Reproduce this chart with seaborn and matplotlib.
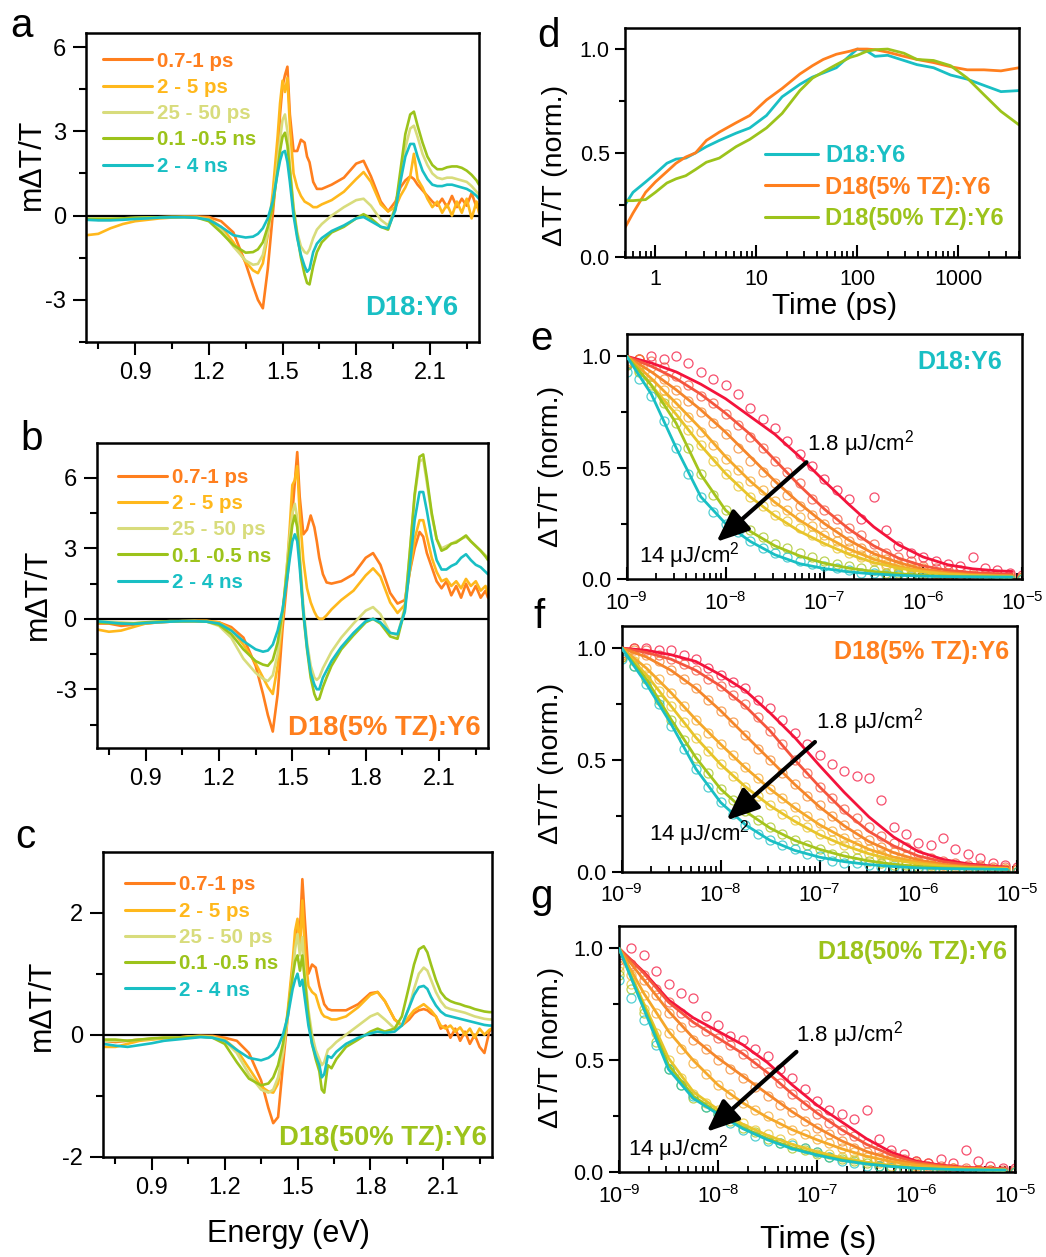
import numpy as np
import pandas as pd
import matplotlib
matplotlib.use('Agg')
import matplotlib.pyplot as plt
from matplotlib.lines import Line2D
from matplotlib.ticker import FixedLocator, FuncFormatter, LogLocator, NullFormatter, LogFormatterSciNotation
import seaborn as sns

# ---------------- transient spectra (panels a-c) ----------------
ENERGY = [0.70, 0.75, 0.80, 0.85, 0.90, 0.95, 1.00, 1.05, 1.10, 1.15,
          1.20, 1.25, 1.30, 1.35, 1.38, 1.40, 1.42, 1.44, 1.46, 1.48,
          1.49, 1.50, 1.51, 1.52, 1.53, 1.545, 1.56, 1.575, 1.59, 1.60,
          1.61, 1.625, 1.64, 1.66, 1.70, 1.75, 1.80, 1.83, 1.86, 1.90,
          1.93, 1.96, 1.98, 2.00, 2.02, 2.035, 2.05, 2.07, 2.09, 2.11,
          2.13, 2.15, 2.17, 2.19, 2.21, 2.23, 2.25, 2.27, 2.29, 2.30]
DELAYS = ['0.7-1 ps', '2 - 5 ps', '25 - 50 ps', '0.1 -0.5 ns', '2 - 4 ns']

# D18:Y6
A_07PS = [-0.12, -0.15, -0.15, -0.12, -0.10, -0.08, -0.06, -0.05, -0.04, -0.03,
          -0.05, -0.20, -0.60, -1.70, -2.50, -3.00, -3.30, -1.90, 0.00, 2.00,
          3.60, 4.60, 5.00, 5.30, 3.60, 2.30, 2.30, 2.70, 2.60, 2.10,
          1.90, 1.20, 0.95, 0.95, 1.10, 1.35, 1.85, 1.95, 1.40, 0.50,
          0.15, 0.50, 1.00, 1.25, 1.40, 1.30, 1.10, 0.90, 0.70, 0.50,
          0.35, 0.60, 0.30, 0.70, 0.30, 0.60, 0.35, 0.80, 0.30, 0.40]
A_2PS = [-0.70, -0.65, -0.45, -0.30, -0.20, -0.15, -0.10, -0.07, -0.05, -0.05,
         -0.10, -0.40, -0.95, -1.65, -1.95, -2.05, -1.70, -0.70, 0.80, 2.80,
         4.00, 4.80, 4.40, 4.90, 3.20, 1.50, 1.00, 0.70, 0.50, 0.45,
         0.40, 0.30, 0.30, 0.40, 0.55, 0.85, 1.30, 1.55, 1.20, 0.40,
         0.15, 0.30, 0.70, 1.00, 1.40, 2.20, 1.30, 1.00, 0.60, 0.30,
         0.50, 0.10, 0.40, 0.00, 0.50, 0.10, 0.60, -0.10, 0.50, 0.10]
A_25PS = [-0.10, -0.10, -0.10, -0.10, -0.08, -0.07, -0.06, -0.05, -0.05, -0.06,
          -0.15, -0.50, -1.10, -1.60, -1.75, -1.72, -1.40, -0.60, 0.40, 1.90,
          2.70, 3.40, 3.60, 3.00, 1.80, 0.30, -0.60, -1.10, -1.30, -1.35,
          -1.20, -0.80, -0.50, -0.30, 0.00, 0.30, 0.55, 0.60, 0.35, -0.15,
          -0.35, 0.30, 1.30, 2.40, 3.10, 3.20, 2.80, 2.20, 1.80, 1.50,
          1.35, 1.30, 1.35, 1.35, 1.30, 1.25, 1.20, 1.05, 0.85, 0.75]
A_01NS = [-0.12, -0.12, -0.12, -0.10, -0.08, -0.07, -0.06, -0.05, -0.05, -0.07,
          -0.20, -0.60, -1.05, -1.32, -1.30, -1.20, -0.95, -0.40, 0.30, 1.60,
          2.30, 2.80, 2.95, 2.50, 1.60, 0.20, -0.70, -1.50, -2.10, -2.40,
          -2.45, -1.80, -1.30, -0.95, -0.60, -0.40, -0.10, 0.05, -0.10, -0.40,
          -0.50, 0.30, 1.60, 2.90, 3.60, 3.70, 3.20, 2.60, 2.10, 1.80,
          1.65, 1.65, 1.72, 1.75, 1.75, 1.70, 1.60, 1.45, 1.25, 1.10]
A_2NS = [-0.15, -0.17, -0.17, -0.15, -0.12, -0.10, -0.07, -0.06, -0.06, -0.08,
         -0.15, -0.40, -0.70, -0.78, -0.75, -0.65, -0.45, -0.10, 0.50, 1.50,
         1.95, 2.25, 2.30, 1.90, 1.20, 0.00, -0.80, -1.40, -1.80, -2.00,
         -1.90, -1.30, -1.00, -0.80, -0.55, -0.35, -0.10, -0.05, -0.20, -0.40,
         -0.45, 0.20, 1.20, 2.10, 2.55, 2.55, 2.10, 1.60, 1.30, 1.10,
         1.05, 1.05, 1.10, 1.10, 1.05, 1.00, 0.95, 0.85, 0.70, 0.60]

# D18(5% TZ):Y6
B_07PS = [-0.20, -0.20, -0.30, -0.25, -0.20, -0.15, -0.12, -0.10, -0.10, -0.10,
          -0.15, -0.35, -0.80, -2.00, -3.20, -4.10, -4.80, -3.20, -0.40, 1.80,
          3.00, 4.50, 5.80, 7.10, 5.20, 3.60, 3.80, 4.40, 3.90, 3.30,
          2.60, 1.90, 1.55, 1.50, 1.60, 1.90, 2.60, 2.80, 2.30, 1.10,
          0.65, 0.80, 2.00, 3.00, 3.70, 3.50, 2.80, 2.20, 1.60, 1.30,
          1.60, 1.00, 1.40, 0.90, 1.50, 1.00, 1.40, 0.90, 1.20, 0.90]
B_2PS = [-0.45, -0.55, -0.50, -0.35, -0.20, -0.15, -0.12, -0.10, -0.08, -0.08,
         -0.15, -0.45, -1.10, -1.90, -2.50, -2.90, -3.20, -2.00, 0.00, 2.50,
         4.00, 5.70, 5.90, 6.50, 4.50, 2.50, 1.30, 0.70, 0.30, 0.10,
         0.00, 0.00, 0.15, 0.40, 0.80, 1.20, 1.85, 2.15, 1.80, 0.70,
         0.25, 0.60, 2.00, 3.40, 4.20, 4.20, 3.50, 2.60, 2.00, 1.60,
         1.70, 1.40, 1.60, 1.30, 1.70, 1.40, 1.60, 1.20, 1.40, 1.10]
B_25PS = [-0.10, -0.12, -0.15, -0.18, -0.15, -0.12, -0.10, -0.10, -0.10, -0.12,
          -0.30, -0.80, -1.70, -2.30, -2.55, -2.65, -2.40, -1.50, 0.20, 2.50,
          3.60, 4.50, 4.90, 4.30, 2.80, 0.50, -1.00, -2.00, -2.50, -2.60,
          -2.50, -2.10, -1.80, -1.40, -0.80, -0.20, 0.35, 0.50, 0.20, -0.60,
          -0.70, 0.50, 2.80, 5.20, 6.70, 6.80, 5.80, 4.40, 3.40, 3.00,
          3.10, 3.20, 3.30, 3.40, 3.50, 3.30, 3.10, 2.90, 2.70, 2.60]
B_01NS = [-0.15, -0.18, -0.20, -0.20, -0.15, -0.12, -0.10, -0.10, -0.10, -0.12,
          -0.25, -0.65, -1.30, -1.80, -1.95, -2.00, -1.75, -1.00, 0.30, 2.20,
          3.20, 4.00, 4.40, 3.90, 2.50, 0.20, -1.30, -2.50, -3.20, -3.45,
          -3.40, -2.90, -2.50, -2.00, -1.30, -0.70, -0.15, 0.00, -0.20, -0.75,
          -0.85, 0.40, 2.80, 5.30, 6.90, 7.00, 6.00, 4.50, 3.40, 2.90,
          3.00, 3.20, 3.25, 3.40, 3.55, 3.30, 3.10, 2.90, 2.65, 2.50]
B_2NS = [-0.10, -0.15, -0.20, -0.22, -0.18, -0.15, -0.12, -0.10, -0.10, -0.12,
         -0.20, -0.50, -0.95, -1.30, -1.40, -1.35, -1.10, -0.50, 0.40, 1.80,
         2.60, 3.30, 3.60, 3.30, 2.20, 0.30, -1.20, -2.30, -2.80, -3.00,
         -3.00, -2.50, -2.20, -1.80, -1.20, -0.60, -0.10, 0.00, -0.15, -0.60,
         -0.65, 0.30, 2.20, 4.20, 5.40, 5.40, 4.60, 3.40, 2.50, 2.10,
         2.10, 2.25, 2.35, 2.60, 2.75, 2.50, 2.30, 2.20, 2.00, 1.90]

# D18(50% TZ):Y6
C_07PS = [-0.10, -0.12, -0.10, -0.08, -0.07, -0.05, -0.05, -0.03, -0.02, -0.02,
          -0.05, -0.10, -0.30, -0.75, -1.20, -1.45, -1.35, -0.50, 0.30, 1.10,
          1.50, 1.85, 1.70, 2.55, 1.90, 1.00, 1.15, 1.10, 0.80, 0.65,
          0.50, 0.42, 0.40, 0.40, 0.40, 0.50, 0.68, 0.70, 0.55, 0.25,
          0.15, 0.25, 0.35, 0.40, 0.42, 0.40, 0.35, 0.30, 0.10, 0.15,
          -0.05, 0.10, -0.10, 0.05, -0.15, 0.00, -0.20, -0.30, 0.05, 0.10]
C_2PS = [-0.20, -0.20, -0.15, -0.10, -0.08, -0.06, -0.05, -0.03, -0.02, -0.03,
         -0.08, -0.25, -0.55, -0.85, -0.93, -0.95, -0.80, -0.30, 0.40, 1.20,
         1.70, 1.90, 1.40, 2.20, 1.40, 0.80, 0.70, 0.65, 0.45, 0.35,
         0.30, 0.28, 0.25, 0.25, 0.30, 0.45, 0.65, 0.70, 0.55, 0.25,
         0.15, 0.30, 0.40, 0.45, 0.50, 0.45, 0.40, 0.30, 0.15, 0.10,
         0.15, 0.05, 0.12, 0.00, 0.10, -0.05, 0.10, 0.00, 0.08, 0.10]
C_25PS = [-0.10, -0.10, -0.10, -0.08, -0.07, -0.05, -0.05, -0.04, -0.03, -0.04,
          -0.10, -0.30, -0.65, -0.90, -0.95, -0.90, -0.70, -0.30, 0.30, 1.00,
          1.40, 1.65, 1.30, 1.60, 1.00, 0.40, 0.00, -0.25, -0.40, -0.50,
          -0.45, -0.25, -0.20, -0.12, 0.00, 0.15, 0.30, 0.35, 0.25, 0.10,
          0.15, 0.45, 0.75, 1.00, 1.10, 1.05, 0.90, 0.70, 0.55, 0.45,
          0.42, 0.40, 0.38, 0.36, 0.33, 0.30, 0.28, 0.26, 0.25, 0.25]
C_01NS = [-0.08, -0.08, -0.10, -0.08, -0.06, -0.05, -0.05, -0.04, -0.03, -0.05,
          -0.15, -0.45, -0.72, -0.83, -0.80, -0.70, -0.50, -0.15, 0.35, 0.95,
          1.20, 1.30, 1.05, 1.30, 0.90, 0.30, -0.15, -0.40, -0.60, -0.90,
          -0.95, -0.50, -0.55, -0.40, -0.20, -0.08, 0.05, 0.10, 0.05, 0.10,
          0.30, 0.80, 1.15, 1.40, 1.45, 1.35, 1.15, 0.90, 0.70, 0.60,
          0.55, 0.52, 0.50, 0.47, 0.45, 0.42, 0.40, 0.38, 0.37, 0.37]
C_2NS = [-0.15, -0.18, -0.20, -0.17, -0.14, -0.10, -0.08, -0.06, -0.04, -0.05,
         -0.10, -0.25, -0.38, -0.42, -0.38, -0.32, -0.20, 0.00, 0.30, 0.75,
         0.90, 1.00, 0.80, 0.90, 0.60, 0.15, -0.15, -0.35, -0.50, -0.70,
         -0.65, -0.35, -0.38, -0.28, -0.15, -0.05, 0.02, 0.05, 0.03, 0.05,
         0.15, 0.45, 0.65, 0.78, 0.80, 0.75, 0.62, 0.48, 0.38, 0.32,
         0.30, 0.28, 0.26, 0.24, 0.22, 0.20, 0.18, 0.16, 0.15, 0.15]

# ---------------- kinetics (panel d) ----------------
TIME_PS = [0.5, 0.6, 0.8, 1.0, 1.3, 1.6, 2.0, 2.5, 3.2, 4.3, 6.3, 8.6, 12.6, 18, 27, 36,
           46, 62, 85, 100, 125, 150, 200, 290, 390, 570, 840, 1230, 1800, 2650, 4000]
D_Y6 = [0.25, 0.31, 0.36, 0.40, 0.45, 0.47, 0.475, 0.50, 0.53, 0.56, 0.595, 0.62, 0.68, 0.77,
        0.83, 0.865, 0.885, 0.91, 0.97, 1.0, 0.99, 0.965, 0.97, 0.945, 0.925, 0.91, 0.875,
        0.855, 0.825, 0.795, 0.80]
D_5TZ = [0.14, 0.21, 0.31, 0.36, 0.41, 0.45, 0.48, 0.50, 0.56, 0.60, 0.645, 0.68, 0.755, 0.81,
         0.88, 0.92, 0.95, 0.975, 0.99, 1.0, 1.0, 0.997, 0.985, 0.965, 0.95, 0.935, 0.915,
         0.90, 0.90, 0.895, 0.91]
D_50TZ = [0.27, 0.27, 0.275, 0.31, 0.355, 0.375, 0.39, 0.42, 0.455, 0.475, 0.53, 0.565, 0.62,
          0.69, 0.80, 0.86, 0.89, 0.925, 0.96, 0.97, 0.99, 0.997, 1.0, 0.98, 0.95, 0.945,
          0.92, 0.86, 0.78, 0.70, 0.635]
SAMPLES = ['D18:Y6', 'D18(5% TZ):Y6', 'D18(50% TZ):Y6']

# ---------------- fluence-dependent decays (panels e-g) ----------------
LOGT_FIT = [-9.0, -8.75, -8.5, -8.25, -8.0, -7.75, -7.5, -7.25, -7.0, -6.75,
            -6.5, -6.25, -6.0, -5.75, -5.5, -5.25, -5.1]
LOGT_DATA = [-9.0, -8.875, -8.75, -8.625, -8.5, -8.375, -8.25, -8.125, -8.0, -7.875,
             -7.75, -7.625, -7.5, -7.375, -7.25, -7.125, -7.0, -6.875, -6.75, -6.625,
             -6.5, -6.375, -6.25, -6.125, -6.0, -5.875, -5.75, -5.625, -5.5, -5.375,
             -5.25, -5.125, -5.0]
FLUENCES = ['1.8', 'f2', 'f3', 'f4', 'f5', 'f6', '14']

FIT_E = [
    [1.0, 0.97, 0.93, 0.875, 0.81, 0.73, 0.65, 0.55, 0.44, 0.335, 0.235, 0.155, 0.10, 0.065, 0.047, 0.038, 0.035],
    [1.0, 0.955, 0.90, 0.83, 0.745, 0.65, 0.535, 0.42, 0.315, 0.225, 0.15, 0.095, 0.06, 0.04, 0.03, 0.025, 0.022],
    [1.0, 0.93, 0.85, 0.76, 0.66, 0.55, 0.44, 0.34, 0.25, 0.175, 0.115, 0.075, 0.045, 0.03, 0.022, 0.018, 0.016],
    [1.0, 0.90, 0.79, 0.675, 0.55, 0.44, 0.345, 0.265, 0.195, 0.135, 0.09, 0.058, 0.037, 0.025, 0.018, 0.015, 0.014],
    [1.0, 0.87, 0.74, 0.60, 0.475, 0.37, 0.285, 0.215, 0.16, 0.112, 0.075, 0.05, 0.033, 0.022, 0.016, 0.013, 0.012],
    [1.0, 0.87, 0.70, 0.47, 0.31, 0.215, 0.15, 0.105, 0.072, 0.05, 0.035, 0.025, 0.018, 0.014, 0.012, 0.011, 0.01],
    [1.0, 0.83, 0.59, 0.37, 0.25, 0.17, 0.11, 0.07, 0.048, 0.033, 0.024, 0.018, 0.014, 0.012, 0.011, 0.01, 0.01],
]
DATA_E = [
    [0.97, 0.99, 1.0, 0.99, 1.0, 0.97, 0.93, 0.9, 0.87, 0.83, 0.77, 0.72, 0.68, 0.62, 0.56, 0.51, 0.45,
     0.4, 0.36, 0.27, 0.37, 0.22, 0.15, 0.12, 0.1, 0.08, 0.07, 0.06, 0.1, 0.05, 0.04, 0.03, 0.02],
    [0.96, 0.99, 0.98, 0.95, 0.91, 0.87, 0.82, 0.79, 0.74, 0.69, 0.64, 0.59, 0.53, 0.48, 0.43, 0.36, 0.31,
     0.27, 0.23, 0.2, 0.16, 0.12, 0.1, 0.08, 0.06, 0.05, 0.04, 0.04, 0.03, 0.02, 0.02, 0.02, 0.01],
    [0.97, 0.99, 0.95, 0.9, 0.85, 0.8, 0.75, 0.7, 0.65, 0.59, 0.53, 0.48, 0.43, 0.38, 0.33, 0.29, 0.25,
     0.21, 0.17, 0.14, 0.11, 0.09, 0.07, 0.06, 0.05, 0.03, 0.03, 0.02, 0.02, 0.01, 0.01, 0.01, 0.01],
    [0.98, 0.96, 0.91, 0.85, 0.79, 0.73, 0.66, 0.6, 0.54, 0.49, 0.44, 0.4, 0.35, 0.31, 0.28, 0.24, 0.2,
     0.17, 0.14, 0.11, 0.09, 0.07, 0.06, 0.05, 0.04, 0.03, 0.02, 0.02, 0.01, 0.01, 0.01, 0.0, 0.0],
    [0.97, 0.94, 0.88, 0.81, 0.74, 0.67, 0.6, 0.53, 0.47, 0.42, 0.37, 0.33, 0.29, 0.26, 0.23, 0.2, 0.17,
     0.14, 0.12, 0.1, 0.08, 0.06, 0.05, 0.04, 0.03, 0.02, 0.02, 0.01, 0.01, 0.01, 0.0, 0.0, 0.0],
    [0.96, 0.93, 0.87, 0.79, 0.7, 0.59, 0.47, 0.38, 0.31, 0.26, 0.22, 0.19, 0.16, 0.14, 0.12, 0.1, 0.08,
     0.07, 0.06, 0.05, 0.04, 0.03, 0.03, 0.02, 0.02, 0.01, 0.01, 0.01, 0.01, 0.0, 0.0, 0.0, 0.0],
    [0.93, 0.9, 0.82, 0.71, 0.59, 0.47, 0.37, 0.3, 0.25, 0.21, 0.17, 0.14, 0.12, 0.1, 0.08, 0.07, 0.06,
     0.05, 0.04, 0.03, 0.03, 0.02, 0.02, 0.01, 0.01, 0.01, 0.0, 0.0, 0.0, 0.0, 0.0, 0.0, 0.0],
]

FIT_F = [
    [1.0, 0.99, 0.97, 0.94, 0.88, 0.81, 0.71, 0.60, 0.475, 0.355, 0.245, 0.155, 0.09, 0.055, 0.035, 0.025, 0.02],
    [1.0, 0.98, 0.95, 0.90, 0.83, 0.74, 0.63, 0.50, 0.38, 0.27, 0.18, 0.115, 0.07, 0.045, 0.03, 0.022, 0.018],
    [1.0, 0.96, 0.90, 0.82, 0.72, 0.61, 0.50, 0.39, 0.29, 0.205, 0.135, 0.085, 0.052, 0.033, 0.023, 0.018, 0.015],
    [1.0, 0.91, 0.80, 0.68, 0.57, 0.465, 0.37, 0.285, 0.21, 0.15, 0.10, 0.065, 0.042, 0.028, 0.02, 0.016, 0.014],
    [1.0, 0.88, 0.74, 0.60, 0.48, 0.38, 0.295, 0.225, 0.165, 0.118, 0.08, 0.053, 0.035, 0.024, 0.018, 0.014, 0.012],
    [1.0, 0.86, 0.68, 0.51, 0.37, 0.27, 0.195, 0.14, 0.10, 0.07, 0.048, 0.033, 0.023, 0.017, 0.014, 0.012, 0.01],
    [1.0, 0.84, 0.66, 0.46, 0.31, 0.21, 0.14, 0.095, 0.065, 0.045, 0.032, 0.023, 0.017, 0.014, 0.012, 0.011, 0.01],
]
DATA_F = [
    [0.98, 1.0, 1.0, 0.99, 0.99, 0.97, 0.95, 0.91, 0.88, 0.85, 0.82, 0.77, 0.73, 0.68, 0.62, 0.57, 0.52,
     0.48, 0.45, 0.43, 0.42, 0.32, 0.2, 0.17, 0.13, 0.12, 0.15, 0.1, 0.08, 0.06, 0.04, 0.03, 0.02],
    [0.97, 1.0, 0.99, 0.97, 0.95, 0.93, 0.9, 0.86, 0.83, 0.79, 0.75, 0.69, 0.63, 0.57, 0.5, 0.44, 0.38,
     0.33, 0.28, 0.24, 0.2, 0.16, 0.13, 0.11, 0.08, 0.06, 0.05, 0.04, 0.03, 0.03, 0.02, 0.02, 0.01],
    [0.96, 0.99, 0.97, 0.94, 0.9, 0.86, 0.82, 0.77, 0.72, 0.67, 0.61, 0.55, 0.5, 0.44, 0.39, 0.34, 0.3,
     0.25, 0.21, 0.17, 0.14, 0.11, 0.09, 0.07, 0.05, 0.04, 0.03, 0.03, 0.02, 0.02, 0.01, 0.01, 0.01],
    [0.98, 0.96, 0.91, 0.86, 0.8, 0.74, 0.68, 0.62, 0.57, 0.52, 0.47, 0.42, 0.37, 0.33, 0.29, 0.25, 0.22,
     0.18, 0.15, 0.12, 0.1, 0.08, 0.07, 0.05, 0.04, 0.03, 0.03, 0.02, 0.02, 0.01, 0.01, 0.01, 0.0],
    [0.97, 0.94, 0.88, 0.81, 0.74, 0.67, 0.6, 0.54, 0.48, 0.43, 0.38, 0.34, 0.3, 0.26, 0.23, 0.2, 0.17,
     0.14, 0.12, 0.1, 0.08, 0.07, 0.05, 0.04, 0.04, 0.03, 0.02, 0.02, 0.01, 0.01, 0.01, 0.0, 0.0],
    [0.96, 0.92, 0.86, 0.77, 0.68, 0.59, 0.51, 0.44, 0.37, 0.32, 0.27, 0.23, 0.2, 0.17, 0.14, 0.12, 0.1,
     0.08, 0.07, 0.06, 0.05, 0.04, 0.03, 0.03, 0.02, 0.02, 0.01, 0.01, 0.01, 0.01, 0.0, 0.0, 0.0],
    [0.95, 0.92, 0.84, 0.75, 0.65, 0.55, 0.46, 0.38, 0.31, 0.26, 0.21, 0.17, 0.14, 0.12, 0.1, 0.08, 0.07,
     0.05, 0.04, 0.04, 0.03, 0.02, 0.02, 0.01, 0.01, 0.01, 0.0, 0.0, 0.0, 0.0, 0.0, 0.0, 0.0],
]

FIT_G = [
    [1.0, 0.895, 0.77, 0.69, 0.63, 0.57, 0.49, 0.39, 0.30, 0.225, 0.15, 0.09, 0.05, 0.032, 0.022, 0.018, 0.016],
    [1.0, 0.89, 0.76, 0.67, 0.60, 0.53, 0.445, 0.35, 0.265, 0.19, 0.125, 0.078, 0.045, 0.03, 0.02, 0.016, 0.015],
    [1.0, 0.86, 0.72, 0.60, 0.51, 0.43, 0.35, 0.27, 0.20, 0.14, 0.093, 0.06, 0.038, 0.026, 0.019, 0.015, 0.014],
    [1.0, 0.80, 0.63, 0.50, 0.39, 0.31, 0.245, 0.19, 0.145, 0.105, 0.072, 0.048, 0.032, 0.022, 0.016, 0.013, 0.012],
    [1.0, 0.755, 0.51, 0.36, 0.28, 0.215, 0.165, 0.125, 0.092, 0.065, 0.045, 0.031, 0.022, 0.016, 0.013, 0.011, 0.01],
    [1.0, 0.74, 0.48, 0.34, 0.265, 0.20, 0.15, 0.11, 0.08, 0.056, 0.039, 0.027, 0.019, 0.014, 0.012, 0.01, 0.01],
    [1.0, 0.73, 0.46, 0.33, 0.26, 0.195, 0.145, 0.105, 0.077, 0.053, 0.037, 0.026, 0.018, 0.014, 0.011, 0.01, 0.01],
]
DATA_G = [
    [0.97, 1.0, 0.97, 0.9, 0.84, 0.8, 0.78, 0.7, 0.66, 0.61, 0.59, 0.55, 0.52, 0.46, 0.42, 0.37, 0.32,
     0.28, 0.26, 0.24, 0.28, 0.15, 0.1, 0.08, 0.05, 0.04, 0.06, 0.04, 0.1, 0.05, 0.03, 0.02, 0.02],
    [0.95, 0.93, 0.88, 0.82, 0.76, 0.71, 0.67, 0.63, 0.6, 0.57, 0.53, 0.49, 0.45, 0.4, 0.35, 0.3, 0.26,
     0.22, 0.19, 0.16, 0.13, 0.1, 0.08, 0.06, 0.05, 0.04, 0.03, 0.02, 0.02, 0.01, 0.01, 0.01, 0.01],
    [0.96, 0.92, 0.86, 0.79, 0.71, 0.65, 0.59, 0.55, 0.5, 0.46, 0.42, 0.38, 0.34, 0.3, 0.27, 0.23, 0.2,
     0.17, 0.14, 0.11, 0.09, 0.07, 0.06, 0.05, 0.04, 0.03, 0.02, 0.02, 0.01, 0.01, 0.01, 0.0, 0.0],
    [0.92, 0.88, 0.79, 0.71, 0.62, 0.55, 0.49, 0.44, 0.39, 0.35, 0.31, 0.28, 0.25, 0.22, 0.19, 0.17, 0.15,
     0.13, 0.11, 0.09, 0.07, 0.06, 0.05, 0.04, 0.03, 0.02, 0.02, 0.01, 0.01, 0.01, 0.0, 0.0, 0.0],
    [0.9, 0.84, 0.73, 0.62, 0.5, 0.42, 0.35, 0.31, 0.28, 0.25, 0.22, 0.19, 0.17, 0.15, 0.13, 0.11, 0.09,
     0.08, 0.07, 0.06, 0.05, 0.04, 0.03, 0.02, 0.02, 0.01, 0.01, 0.01, 0.0, 0.0, 0.0, 0.0, 0.0],
    [0.88, 0.82, 0.71, 0.58, 0.46, 0.39, 0.33, 0.29, 0.26, 0.23, 0.2, 0.18, 0.15, 0.13, 0.11, 0.1, 0.08,
     0.07, 0.06, 0.05, 0.04, 0.03, 0.02, 0.02, 0.01, 0.01, 0.01, 0.0, 0.0, 0.0, 0.0, 0.0, 0.0],
    [0.86, 0.78, 0.68, 0.57, 0.46, 0.39, 0.34, 0.29, 0.26, 0.22, 0.19, 0.16, 0.14, 0.13, 0.12, 0.11, 0.09,
     0.07, 0.05, 0.04, 0.03, 0.03, 0.02, 0.01, 0.01, 0.01, 0.0, 0.0, 0.0, 0.0, 0.0, 0.0, 0.0],
]

# ---------------- style ----------------
SPEC_COLORS = ['#FF7F1E', '#FFB81C', '#D8DC7C', '#9CC31B', '#19BFC4']
SAMPLE_COLORS = ['#19BFC4', '#FF7F1E', '#9CC31B']
DECAY_COLORS = ['#F4143C', '#F5553D', '#F5862A', '#F5A82A', '#E8C42A', '#A5C41C', '#19BFC4']

sns.set_style('ticks')
plt.rcParams['font.family'] = ['Liberation Sans', 'DejaVu Sans']
plt.rcParams['mathtext.default'] = 'regular'
plt.rcParams['axes.linewidth'] = 1.8
plt.rcParams['axes.edgecolor'] = 'black'
plt.rcParams['xtick.color'] = 'black'
plt.rcParams['ytick.color'] = 'black'
plt.rcParams['text.color'] = 'black'
plt.rcParams['axes.labelcolor'] = 'black'

FIG_W, FIG_H = 1046, 1257
fig = plt.figure(figsize=(FIG_W / 100, FIG_H / 100), dpi=100)


def pix_axes(left, top, right, bottom):
    return fig.add_axes([left / FIG_W, 1 - bottom / FIG_H,
                         (right - left) / FIG_W, (bottom - top) / FIG_H])


def spectra_panel(ax, curves, ylim, major, minor, tag, tag_color, tag_xy, leg_xy, ylab_xy):
    df = pd.concat([pd.DataFrame({'energy': ENERGY, 'value': v, 'delay': d})
                    for d, v in zip(DELAYS, curves)], ignore_index=True)
    ax.axhline(0, color='black', lw=1.6, zorder=1)
    sns.lineplot(data=df, x='energy', y='value', hue='delay', hue_order=DELAYS,
                 palette=SPEC_COLORS, estimator=None, sort=False, legend=False,
                 linewidth=1.9, ax=ax)
    ax.set_xlim(0.7, 2.3)
    ax.set_ylim(*ylim)
    ax.xaxis.set_major_locator(FixedLocator([0.9, 1.2, 1.5, 1.8, 2.1]))
    ax.xaxis.set_minor_locator(FixedLocator([0.75, 1.05, 1.35, 1.65, 1.95, 2.25]))
    ax.xaxis.set_major_formatter(FuncFormatter(lambda v, p: f'{v:.1f}'))
    ax.yaxis.set_major_locator(FixedLocator(major))
    ax.yaxis.set_minor_locator(FixedLocator(minor))
    ax.yaxis.set_major_formatter(FuncFormatter(lambda v, p: f'{v:g}'))
    ax.tick_params(which='major', direction='out', length=9.5, width=1.5, labelsize=17, pad=5)
    ax.tick_params(which='minor', direction='out', length=5, width=1.5)
    ax.set_xlabel('')
    ax.set_ylabel('mΔT/T', fontsize=22)
    ax.yaxis.set_label_coords(*ylab_xy)
    handles = [Line2D([], [], color=c, lw=2.2) for c in SPEC_COLORS]
    ax.legend(handles, DELAYS, loc='upper left', bbox_to_anchor=leg_xy, frameon=False,
              handlelength=2.38, handletextpad=0.25, labelspacing=0.355, borderpad=0,
              borderaxespad=0, labelcolor='linecolor', prop={'weight': 'bold', 'size': 14.8})
    ax.text(tag_xy[0], tag_xy[1], tag, transform=ax.transAxes, ha='right', va='center',
            color=tag_color, fontsize=19.8, fontweight='bold')


def log_x_ticks(ax, major):
    ax.xaxis.set_major_locator(FixedLocator(major))
    ax.xaxis.set_minor_locator(LogLocator(base=10, subs=np.arange(2, 10), numticks=40))
    ax.xaxis.set_minor_formatter(NullFormatter())
    ax.tick_params(axis='x', which='major', direction='in', length=8.5, width=1.5, pad=9)
    ax.tick_params(axis='x', which='minor', direction='in', length=4.5, width=1.3)
    ax.tick_params(axis='y', which='major', direction='out', length=7, width=1.5, pad=4)
    ax.tick_params(axis='y', which='minor', direction='out', length=4, width=1.5)
    ax.tick_params(which='major', labelsize=15.5)
    ax.set_ylim(0, 1.1)
    ax.yaxis.set_major_locator(FixedLocator([0.0, 0.5, 1.0]))
    ax.yaxis.set_minor_locator(FixedLocator([0.25, 0.75]))
    ax.yaxis.set_major_formatter(FuncFormatter(lambda v, p: f'{v:.1f}'))


def decay_panel(ax, fits, data, tag, tag_color, tag_xy, arrow_from, arrow_to, hi_xy, lo_xy, ylab_xy):
    ax.set_xscale('log')
    t_fit = 10.0 ** np.array(LOGT_FIT)
    t_dat = 10.0 ** np.array(LOGT_DATA)
    for col, vals in zip(DECAY_COLORS, data):
        ax.plot(t_dat, vals, ls='none', marker='o', ms=6.5, mfc='none', mec=col,
                mew=0.9, alpha=0.75, zorder=2)
    fit_df = pd.concat([pd.DataFrame({'t': t_fit, 'v': v, 'fluence': f})
                        for f, v in zip(FLUENCES, fits)], ignore_index=True)
    sns.lineplot(data=fit_df, x='t', y='v', hue='fluence', hue_order=FLUENCES,
                 palette=DECAY_COLORS, estimator=None, sort=False, legend=False,
                 linewidth=2.0, ax=ax, zorder=3)
    ax.set_xlim(1e-9, 1e-5)
    log_x_ticks(ax, [1e-9, 1e-8, 1e-7, 1e-6, 1e-5])
    ax.xaxis.set_major_formatter(LogFormatterSciNotation())
    ax.set_xlabel('')
    ax.set_ylabel('ΔT/T (norm.)', fontsize=20.5)
    ax.yaxis.set_label_coords(*ylab_xy)
    ax.annotate('', xy=arrow_to, xytext=arrow_from,
                arrowprops=dict(arrowstyle='-|>,head_length=0.9,head_width=0.38',
                                color='black', lw=3, mutation_scale=22,
                                shrinkA=0, shrinkB=0), zorder=6)
    ax.text(hi_xy[0], hi_xy[1], '1.8 μJ/cm$^2$', ha='left', va='center', fontsize=16, zorder=6)
    ax.text(lo_xy[0], lo_xy[1], '14 μJ/cm$^2$', ha='left', va='center', fontsize=16, zorder=6)
    ax.text(tag_xy[0], tag_xy[1], tag, transform=ax.transAxes, ha='right', va='center',
            color=tag_color, fontsize=18, fontweight='bold')


# ---------------- panels a-c ----------------
ax_a = pix_axes(86, 33, 479, 342)
spectra_panel(ax_a, [A_07PS, A_2PS, A_25PS, A_01NS, A_2NS], (-4.5, 6.5), [-3, 0, 3, 6],
              [-4.5, -1.5, 1.5, 4.5], 'D18:Y6', SPEC_COLORS[4], (0.947, 0.11),
              (0.043, 0.94), (-0.10, 0.576))

ax_b = pix_axes(96.7, 442.7, 488, 748)
spectra_panel(ax_b, [B_07PS, B_2PS, B_25PS, B_01NS, B_2NS], (-5.5, 7.5), [-3, 0, 3, 6],
              [-4.5, -1.5, 1.5, 4.5], 'D18(5% TZ):Y6', SPEC_COLORS[0], (0.98, 0.065),
              (0.055, 0.918), (-0.112, 0.504))

ax_c = pix_axes(103.3, 851.7, 491.7, 1156.7)
spectra_panel(ax_c, [C_07PS, C_2PS, C_25PS, C_01NS, C_2NS], (-2, 3), [-2, 0, 2],
              [-1, 1], 'D18(50% TZ):Y6', SPEC_COLORS[3], (0.988, 0.06),
              (0.056, 0.922), (-0.119, 0.495))
ax_c.set_xlabel('Energy (eV)', fontsize=22)
ax_c.xaxis.set_label_coords(0.476, -0.204)
ax_c.xaxis.label.set_va('top')

# ---------------- panel d ----------------
ax_d = pix_axes(625, 28.3, 1019, 256.7)
ax_d.set_xscale('log')
kin = pd.concat([pd.DataFrame({'time': TIME_PS, 'value': v, 'sample': s})
                 for s, v in zip(SAMPLES, [D_Y6, D_5TZ, D_50TZ])], ignore_index=True)
sns.lineplot(data=kin, x='time', y='value', hue='sample', hue_order=SAMPLES,
             palette=SAMPLE_COLORS, estimator=None, sort=False, legend=False,
             linewidth=2.0, ax=ax_d)
ax_d.set_xlim(0.5, 4000)
log_x_ticks(ax_d, [1, 10, 100, 1000])
ax_d.xaxis.set_major_formatter(FuncFormatter(lambda v, p: f'{v:g}'))
ax_d.set_xlabel('Time (ps)', fontsize=21.5)
ax_d.xaxis.set_label_coords(0.533, -0.155)
ax_d.xaxis.label.set_va('top')
ax_d.set_ylabel('ΔT/T (norm.)', fontsize=20.5)
ax_d.yaxis.set_label_coords(-0.145, 0.40)
handles = [Line2D([], [], color=c, lw=2.2) for c in SAMPLE_COLORS]
ax_d.legend(handles, SAMPLES, loc='upper left', bbox_to_anchor=(0.355, 0.492), frameon=False,
            handlelength=2.25, handletextpad=0.3, labelspacing=0.354, borderpad=0,
            borderaxespad=0, labelcolor='linecolor', prop={'weight': 'bold', 'size': 17})

# ---------------- panels e-g ----------------
ax_e = pix_axes(626.7, 334, 1022, 579.3)
decay_panel(ax_e, FIT_E, DATA_E, 'D18:Y6', SAMPLE_COLORS[0], (0.949, 0.887),
            (6.6e-8, 0.525), (8.1e-9, 0.168), (6.6e-8, 0.61), (1.34e-9, 0.108), (-0.159, 0.462))

ax_f = pix_axes(621.7, 625.7, 1017.3, 871.7)
decay_panel(ax_f, FIT_F, DATA_F, 'D18(5% TZ):Y6', SAMPLE_COLORS[1], (0.98, 0.894),
            (9.0e-8, 0.58), (1.15e-8, 0.23), (9.2e-8, 0.67), (1.9e-9, 0.17), (-0.146, 0.439))

ax_g = pix_axes(619, 926, 1015, 1172.3)
decay_panel(ax_g, FIT_G, DATA_G, 'D18(50% TZ):Y6', SAMPLE_COLORS[2], (0.979, 0.896),
            (6.2e-8, 0.538), (7.7e-9, 0.181), (6.2e-8, 0.613), (1.24e-9, 0.107), (-0.139, 0.507))
ax_g.set_xlabel('Time (s)', fontsize=23)
ax_g.xaxis.set_label_coords(0.502, -0.214)
ax_g.xaxis.label.set_va('top')

# ---------------- panel letters ----------------
for letter, x, y in [('a', 10, 37), ('b', 20, 450), ('c', 15, 848), ('d', 537, 47),
                     ('e', 530, 350), ('f', 533, 628), ('g', 530, 908)]:
    fig.text(x / FIG_W, 1 - y / FIG_H, letter, fontsize=29, ha='left', va='baseline')

fig.savefig('out.png', dpi=100)
